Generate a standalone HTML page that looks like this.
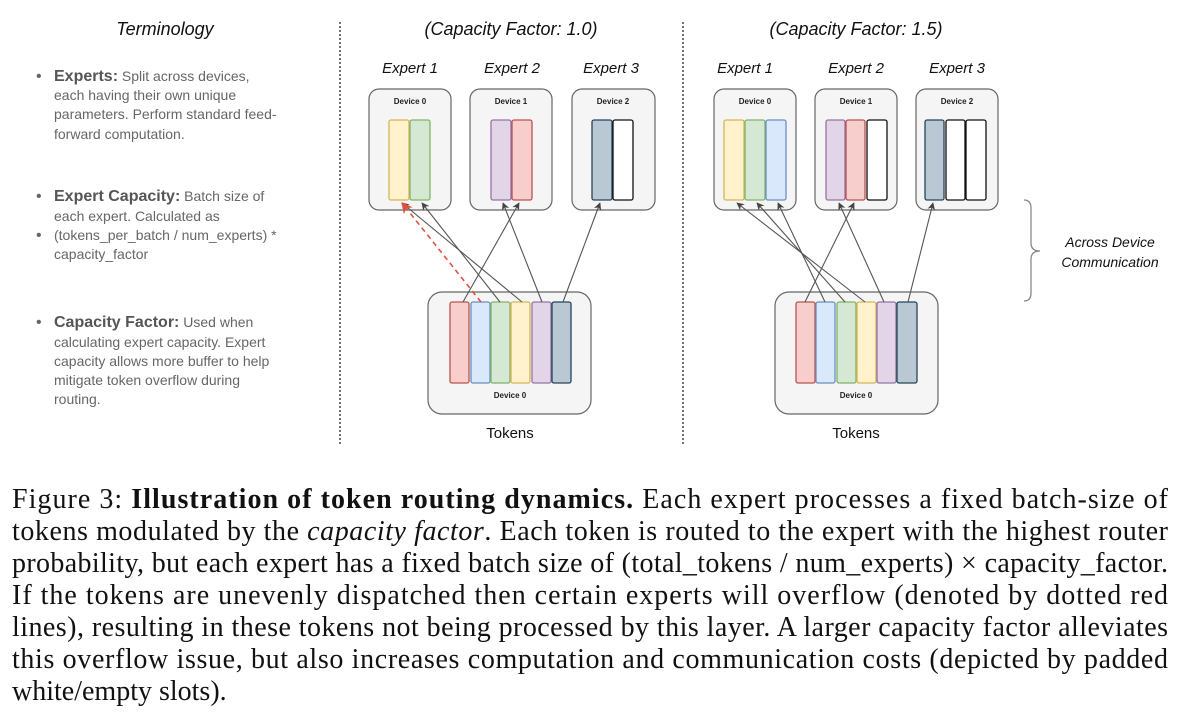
<!DOCTYPE html>
<html><head><meta charset="utf-8"><style>
html,body{margin:0;padding:0;background:#fff;}
svg{display:block;}
.s{font-family:"Liberation Sans",sans-serif;}
.cap{font-family:"Liberation Serif",serif;font-size:28px;fill:#111;}
</style></head><body>
<svg width="1200" height="724" viewBox="0 0 1200 724" xmlns="http://www.w3.org/2000/svg">
<defs>
<marker id="a" viewBox="0 0 10 10" refX="9" refY="5" markerWidth="7" markerHeight="7" orient="auto"><path d="M0,0 L10,5 L0,10 L3,5 z" fill="#444"/></marker>
<marker id="ar" viewBox="0 0 10 10" refX="9" refY="5" markerWidth="7" markerHeight="7" orient="auto"><path d="M0,0 L10,5 L0,10 L3,5 z" fill="#e05040"/></marker>
</defs>
<g class="s">
<text x="165" y="35" font-size="18" font-style="italic" text-anchor="middle" fill="#111">Terminology</text>
<g font-size="14" fill="#666">
<text x="36" y="81" font-size="16">•</text>
<text x="54" y="81"><tspan font-weight="bold" font-size="16" fill="#555">Experts:</tspan> Split across devices,</text>
<text x="54" y="100">each having their own unique</text>
<text x="54" y="119">parameters. Perform standard feed-</text>
<text x="54" y="139">forward computation.</text>
<text x="36" y="201" font-size="16">•</text>
<text x="54" y="201"><tspan font-weight="bold" font-size="16" fill="#555">Expert Capacity:</tspan> Batch size of</text>
<text x="54" y="221">each expert. Calculated as</text>
<text x="36" y="240" font-size="16">•</text>
<text x="54" y="240">(tokens_per_batch / num_experts) *</text>
<text x="54" y="259">capacity_factor</text>
<text x="36" y="327" font-size="16">•</text>
<text x="54" y="327"><tspan font-weight="bold" font-size="16" fill="#555">Capacity Factor:</tspan> Used when</text>
<text x="54" y="347">calculating expert capacity. Expert</text>
<text x="54" y="366">capacity allows more buffer to help</text>
<text x="54" y="385">mitigate token overflow during</text>
<text x="54" y="404">routing.</text>
</g>
<line x1="340" y1="22" x2="340" y2="446" stroke="#444" stroke-width="1.5" stroke-dasharray="2,2"/>
<line x1="683" y1="22" x2="683" y2="446" stroke="#444" stroke-width="1.5" stroke-dasharray="2,2"/>

<g font-style="italic" fill="#111" text-anchor="middle">
<text x="511" y="35" font-size="18">(Capacity Factor: 1.0)</text>
<text x="856" y="35" font-size="18">(Capacity Factor: 1.5)</text>
<g font-size="15">
<text x="410" y="73">Expert 1</text><text x="512" y="73">Expert 2</text><text x="611" y="73">Expert 3</text>
<text x="745" y="73">Expert 1</text><text x="856" y="73">Expert 2</text><text x="957" y="73">Expert 3</text>
</g>
</g>

<g fill="#f5f5f5" stroke="#666" stroke-width="1.2">
<rect x="369" y="89" width="82" height="121" rx="10"/>
<rect x="470" y="89" width="82" height="121" rx="10"/>
<rect x="572" y="89" width="83" height="121" rx="10"/>
<rect x="428" y="292" width="163" height="122" rx="14"/>
<rect x="714" y="89" width="82" height="121" rx="10"/>
<rect x="815" y="89" width="82" height="121" rx="10"/>
<rect x="916" y="89" width="82" height="121" rx="10"/>
<rect x="775" y="292" width="163" height="122" rx="14"/>
</g>
<g font-size="8" font-weight="bold" fill="#222" text-anchor="middle">
<text x="410" y="104">Device 0</text><text x="511" y="104">Device 1</text><text x="613" y="104">Device 2</text>
<text x="755" y="104">Device 0</text><text x="856" y="104">Device 1</text><text x="957" y="104">Device 2</text>
<text x="510" y="398">Device 0</text><text x="856" y="398">Device 0</text>
</g>
<g stroke-width="1.3">
<rect x="389" y="120" width="20" height="80" rx="2" fill="#fff2cc" stroke="#d6b656"/>
<rect x="410" y="120" width="20" height="80" rx="2" fill="#d5e8d4" stroke="#82b366"/>
<rect x="491" y="120" width="20" height="80" rx="2" fill="#e1d5e7" stroke="#9673a6"/>
<rect x="512" y="120" width="20" height="80" rx="2" fill="#f8cecc" stroke="#b85450"/>
<rect x="592" y="120" width="20" height="80" rx="2" fill="#bac8d3" stroke="#23445d"/>
<rect x="613" y="120" width="20" height="80" rx="2" fill="#fff" stroke="#111"/>
<rect x="450" y="302" width="19" height="81" rx="2" fill="#f8cecc" stroke="#b85450"/>
<rect x="471" y="302" width="19" height="81" rx="2" fill="#dae8fc" stroke="#6c8ebf"/>
<rect x="491" y="302" width="19" height="81" rx="2" fill="#d5e8d4" stroke="#82b366"/>
<rect x="511" y="302" width="19" height="81" rx="2" fill="#fff2cc" stroke="#d6b656"/>
<rect x="532" y="302" width="19" height="81" rx="2" fill="#e1d5e7" stroke="#9673a6"/>
<rect x="552" y="302" width="19" height="81" rx="2" fill="#bac8d3" stroke="#23445d"/>
<rect x="724" y="120" width="20" height="80" rx="2" fill="#fff2cc" stroke="#d6b656"/>
<rect x="745" y="120" width="20" height="80" rx="2" fill="#d5e8d4" stroke="#82b366"/>
<rect x="766" y="120" width="20" height="80" rx="2" fill="#dae8fc" stroke="#6c8ebf"/>
<rect x="826" y="120" width="19" height="80" rx="2" fill="#e1d5e7" stroke="#9673a6"/>
<rect x="846" y="120" width="19" height="80" rx="2" fill="#f8cecc" stroke="#b85450"/>
<rect x="867" y="120" width="20" height="80" rx="2" fill="#fff" stroke="#111"/>
<rect x="925" y="120" width="19" height="80" rx="2" fill="#bac8d3" stroke="#23445d"/>
<rect x="946" y="120" width="19" height="80" rx="2" fill="#fff" stroke="#111"/>
<rect x="966" y="120" width="20" height="80" rx="2" fill="#fff" stroke="#111"/>
<rect x="796" y="302" width="19" height="81" rx="2" fill="#f8cecc" stroke="#b85450"/>
<rect x="816" y="302" width="19" height="81" rx="2" fill="#dae8fc" stroke="#6c8ebf"/>
<rect x="837" y="302" width="19" height="81" rx="2" fill="#d5e8d4" stroke="#82b366"/>
<rect x="857" y="302" width="19" height="81" rx="2" fill="#fff2cc" stroke="#d6b656"/>
<rect x="877" y="302" width="19" height="81" rx="2" fill="#e1d5e7" stroke="#9673a6"/>
<rect x="897" y="302" width="20" height="81" rx="2" fill="#bac8d3" stroke="#23445d"/>
</g>
<g stroke="#555" stroke-width="1.1" marker-end="url(#a)">
<line x1="463" y1="302" x2="519" y2="203"/>
<line x1="500" y1="302" x2="422" y2="203"/>
<line x1="522" y1="302" x2="402" y2="203"/>
<line x1="542" y1="302" x2="503" y2="203"/>
<line x1="563" y1="302" x2="600" y2="203"/>
<line x1="805" y1="302" x2="854" y2="203"/>
<line x1="825" y1="302" x2="778" y2="203"/>
<line x1="845" y1="302" x2="757" y2="203"/>
<line x1="865" y1="302" x2="737" y2="203"/>
<line x1="884" y1="302" x2="839" y2="203"/>
<line x1="908" y1="302" x2="933" y2="203"/>
</g>
<line x1="481" y1="302" x2="402" y2="203" stroke="#e05040" stroke-width="1.6" stroke-dasharray="5,4" marker-end="url(#ar)"/>
<text x="510" y="438" font-size="15" fill="#111" text-anchor="middle">Tokens</text>
<text x="856" y="438" font-size="15" fill="#111" text-anchor="middle">Tokens</text>
<path d="M1024,200 Q1031,200 1031,208 L1031,243 Q1031,251 1040,251 Q1031,251 1031,259 L1031,293 Q1031,301 1024,301" fill="none" stroke="#888" stroke-width="1.3"/>
<g font-size="14" font-style="italic" fill="#111" text-anchor="middle">
<text x="1110" y="247">Across Device</text>
<text x="1110" y="267">Communication</text>
</g>
</g>
<g class="cap">
<text x="12" y="508" textLength="1156" lengthAdjust="spacing">Figure 3: <tspan font-weight="bold">Illustration of token routing dynamics.</tspan> Each expert processes a fixed batch-size of</text>
<text x="12" y="540" textLength="1156" lengthAdjust="spacing">tokens modulated by the <tspan font-style="italic">capacity factor</tspan>. Each token is routed to the expert with the highest router</text>
<text x="12" y="572" textLength="1156" lengthAdjust="spacing">probability, but each expert has a fixed batch size of (total_tokens / num_experts) × capacity_factor.</text>
<text x="12" y="604" textLength="1156" lengthAdjust="spacing">If the tokens are unevenly dispatched then certain experts will overflow (denoted by dotted red</text>
<text x="12" y="636" textLength="1156" lengthAdjust="spacing">lines), resulting in these tokens not being processed by this layer. A larger capacity factor alleviates</text>
<text x="12" y="668" textLength="1156" lengthAdjust="spacing">this overflow issue, but also increases computation and communication costs (depicted by padded</text>
<text x="12" y="700">white/empty slots).</text>
</g>
</svg>
</body></html>
